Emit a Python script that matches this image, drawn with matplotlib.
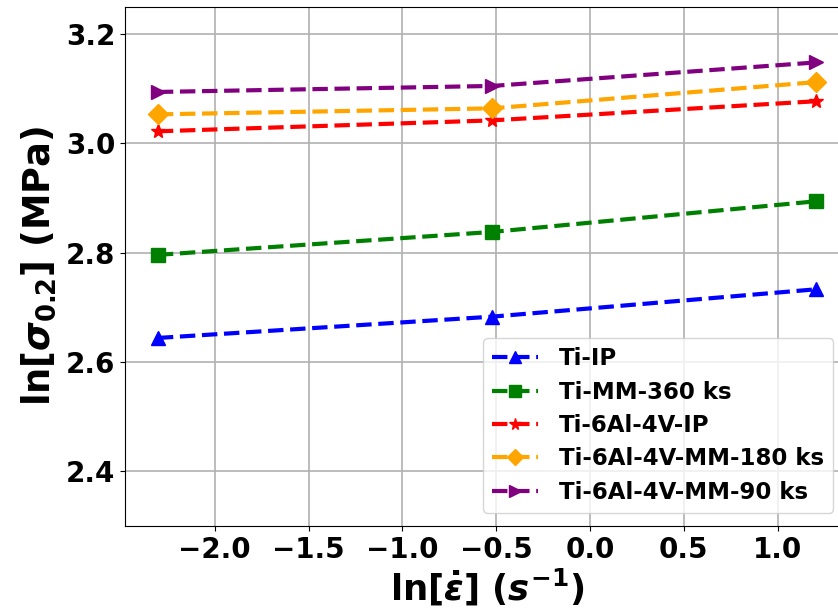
import matplotlib
matplotlib.use('Agg')
import matplotlib.pyplot as plt
import numpy as np

# yield stress vs strain rate (log-log)

plt.rcParams['mathtext.fontset'] = 'custom'
plt.rcParams['mathtext.rm'] = 'DejaVu Sans:bold'
plt.rcParams['mathtext.bf'] = 'DejaVu Sans:bold'
plt.rcParams['mathtext.it'] = 'DejaVu Sans:italic:bold'

ln_rate = [-2.303, -0.52, 1.204]

ti_ip = [2.644, 2.683, 2.733]
ti_mm_360 = [2.796, 2.838, 2.894]
ti64_ip = [3.022, 3.042, 3.077]
ti64_mm_180 = [3.053, 3.064, 3.112]
ti64_mm_90 = [3.094, 3.105, 3.148]

labels = ['Ti-IP', 'Ti-MM-360 ks', 'Ti-6Al-4V-IP', 'Ti-6Al-4V-MM-180 ks', 'Ti-6Al-4V-MM-90 ks']
colors = ['blue', 'green', 'red', 'orange', 'purple']
markers = ['^', 's', '*', 'D', '>']
series = [ti_ip, ti_mm_360, ti64_ip, ti64_mm_180, ti64_mm_90]

fig = plt.figure(figsize=(8.38, 6.12), dpi=100)
ax = fig.add_axes([0.1492, 0.1405, 0.8637, 0.8486])

for y, lab, c, m in zip(series, labels, colors, markers):
    ax.plot(ln_rate, y, linestyle='--', linewidth=3, color=c, marker=m,
            markersize=10, label=lab)

ax.set_xlim(-2.478, 1.379)
ax.set_ylim(2.3, 3.25)
ax.set_xticks([-2.0, -1.5, -1.0, -0.5, 0.0, 0.5, 1.0])
ax.set_yticks([2.4, 2.6, 2.8, 3.0, 3.2])
ax.grid(True, color='#b0b0b0', linewidth=1.2)
ax.set_axisbelow(True)

for lbl in ax.get_xticklabels() + ax.get_yticklabels():
    lbl.set_fontsize(20)
    lbl.set_fontweight('bold')

ax.set_xlabel(r'ln[$\dot{\varepsilon}$] ($s^{-1}$)', fontsize=25.5, fontweight='bold', labelpad=2)
ax.set_ylabel(r'ln[$\sigma_{0.2}$] (MPa)', fontsize=26.5, fontweight='bold', labelpad=6)

ax.legend(loc='upper left', bbox_to_anchor=(483.3 / 838, 1 - 338.3 / 612),
          bbox_transform=fig.transFigure, borderaxespad=0, markerscale=0.85,
          handletextpad=0.9, borderpad=0.4, labelspacing=0.45,
          prop={'size': 16.5, 'weight': 'bold'})

fig.savefig('out.png', dpi=100)
